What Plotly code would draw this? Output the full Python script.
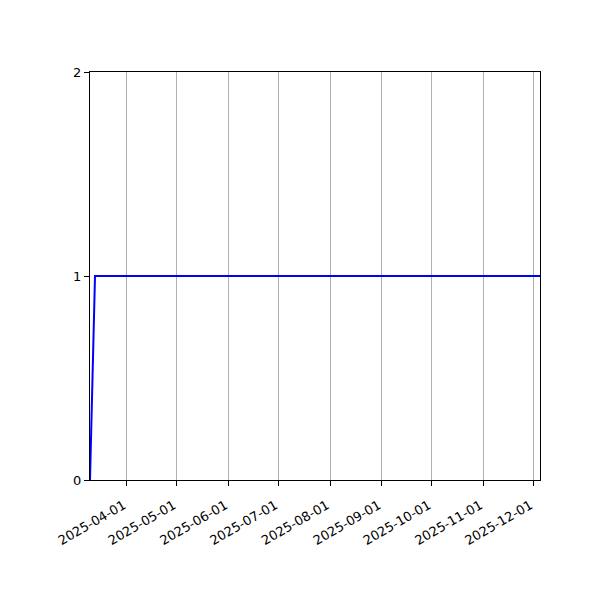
import plotly.graph_objects as go

# daily count series (steps up to 1 shortly after start, then flat)
dates = ["2025-03-10", "2025-03-13", "2025-12-05"]
counts = [0, 1, 1]
y_ticks = [0, 1, 2]

fig = go.Figure()
fig.add_trace(go.Scatter(x=dates, y=counts, mode="lines",
                         line=dict(color="#0000ff", width=2), showlegend=False))

# page body adds ~8px offset, so margins are trimmed to land the axes box at 90..540 x 72..480
fig.update_layout(
    width=600, height=600,
    margin=dict(l=82, r=68, t=64, b=128),
    plot_bgcolor="white", paper_bgcolor="white",
    font=dict(family="DejaVu Sans", size=13, color="black"),
)
fig.update_xaxes(
    range=[dates[0], dates[-1]],
    tick0="2025-04-01", dtick="M1", tickformat="%Y-%m-%d",
    tickangle=-30, ticks="outside", ticklen=5, tickcolor="black",
    ticklabelstandoff=7, ticklabelshift=-3,
    showgrid=True, gridcolor="#b0b0b0", gridwidth=1,
    showline=True, linecolor="black", linewidth=1, mirror=True,
    zeroline=False,
)
fig.update_yaxes(
    range=[0, 2], tickvals=y_ticks,
    ticks="outside", ticklen=5, tickcolor="black",
    showgrid=False, showline=True, linecolor="black", linewidth=1, mirror=True,
    zeroline=False,
)

fig.write_html("out.html")
